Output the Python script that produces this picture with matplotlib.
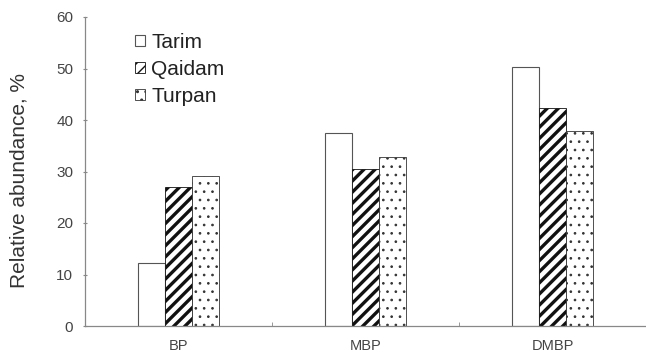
import matplotlib
matplotlib.use("Agg")
import matplotlib.pyplot as plt
import numpy as np

plt.rcParams['font.family'] = ['Liberation Sans', 'DejaVu Sans']

categories = ["BP", "MBP", "DMBP"]
series_names = ["Tarim", "Qaidam", "Turpan"]
tarim = [12.2, 37.4, 50.2]
qaidam = [27.0, 30.5, 42.3]
turpan = [29.1, 32.9, 37.9]
y_ticks = [0, 10, 20, 30, 40, 50, 60]

fig = plt.figure(figsize=(6.46, 3.52), dpi=100)
ax = fig.add_axes([85 / 646, 26 / 352, 561 / 646, 309 / 352])

x = np.arange(len(categories))
w = 0.146
styles = [
    dict(facecolor="white", edgecolor="#555555", hatch=None, linewidth=0.8),
    dict(facecolor="white", edgecolor="#111111", hatch="///", linewidth=0.6),
    dict(facecolor="white", edgecolor="#333333", hatch="..", linewidth=0.6),
]
hatch_lw = [1.0, 2.4, 0.7]
for i, (vals, name, st) in enumerate(zip([tarim, qaidam, turpan], series_names, styles)):
    with plt.rc_context({"hatch.linewidth": hatch_lw[i]}):
        bars = ax.bar(x + (i - 1) * w, vals, width=w, label=name, **st)
        for b in bars:
            if hasattr(b, "set_hatch_linewidth"):
                b.set_hatch_linewidth(hatch_lw[i])

ax.set_xlim(-0.5, 2.5)
ax.set_ylim(0, 60)
ax.set_yticks(y_ticks)
ax.set_xticks(x)
ax.set_xticklabels(categories)
ax.set_xticks([0.5, 1.5], minor=True)
ax.tick_params(axis="x", which="major", length=0, pad=9, labelsize=10.5, labelcolor="#444444")
ax.tick_params(axis="x", which="minor", length=3, direction="in", color="#888888")
ax.tick_params(axis="y", length=3, direction="inout", color="#888888", labelsize=11, labelcolor="#444444", pad=7)

for s in ["top", "right"]:
    ax.spines[s].set_visible(False)
for s in ["left", "bottom"]:
    ax.spines[s].set_color("#888888")
    ax.spines[s].set_linewidth(0.9)

ax.set_ylabel("Relative abundance, %", fontsize=15, color="#333333")
ax.yaxis.set_label_coords(-0.1, 0.47)

leg = ax.legend(loc="upper left", bbox_to_anchor=(0.075, 0.975), frameon=False,
                handlelength=0.45, handleheight=0.45, handletextpad=0.3,
                labelspacing=0.38, fontsize=15, borderaxespad=0)
for t in leg.get_texts():
    t.set_color("#222222")

fig.savefig("out.png", dpi=100)
